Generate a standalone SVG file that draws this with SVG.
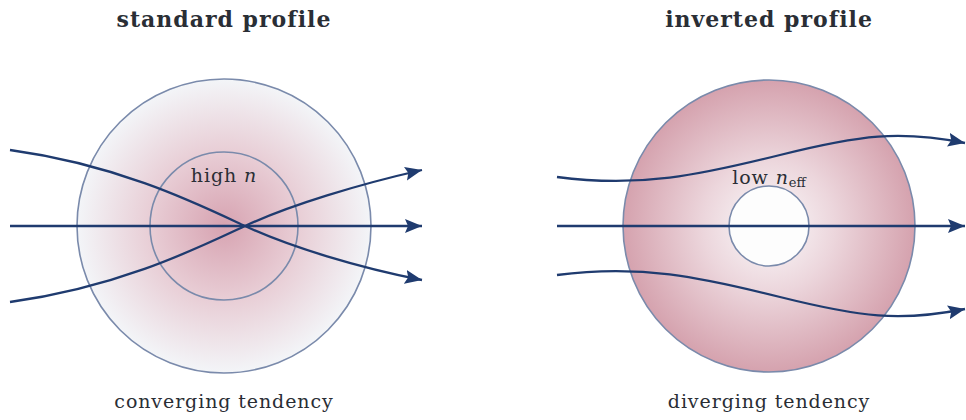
<svg xmlns="http://www.w3.org/2000/svg" width="966" height="420" viewBox="0 0 966 420">
<defs>
<style>
.title{font-family:"DejaVu Serif",serif;font-weight:bold;font-size:22px;letter-spacing:1px;fill:#2a2e35;text-anchor:middle}
.lbl{font-family:"DejaVu Serif",serif;font-size:19px;letter-spacing:0.9px;fill:#2a2e35;text-anchor:middle}
.ring{stroke:#7a8aab;stroke-width:1.6}
.ray{fill:none;stroke:#1f3b6f;stroke-width:2.3}
</style>
<radialGradient id="gStd" cx="0.5" cy="0.5" r="0.5">
<stop offset="0" stop-color="#d7a3b1"/>
<stop offset="0.5" stop-color="#e8cdd5"/>
<stop offset="1" stop-color="#f3f5f8"/>
</radialGradient>
<radialGradient id="gInv" cx="0.5" cy="0.5" r="0.5">
<stop offset="0" stop-color="#fbfbfc"/>
<stop offset="0.45" stop-color="#ecd6dc"/>
<stop offset="1" stop-color="#d5a2ae"/>
</radialGradient>
<marker id="arr" markerUnits="userSpaceOnUse" markerWidth="20" markerHeight="16" refX="17" refY="7" orient="auto">
<path d="M0,0 L17,7 L0,14 L3,7 Z" fill="#1f3b6f"/>
</marker>
</defs>
<text class="title" x="224" y="27">standard profile</text>
<text class="title" x="769" y="27">inverted profile</text>
<g id="standard-outer"><circle class="ring" cx="224" cy="226" r="147" fill="url(#gStd)"/></g>
<g id="standard-inner"><circle class="ring" cx="224" cy="226" r="74" fill="none"/>
<text class="lbl" x="224" y="182">high <tspan font-style="italic">n</tspan></text></g>
<g id="inverted-outer"><circle class="ring" cx="769" cy="226" r="146" fill="url(#gInv)"/>
<text class="lbl" x="769" y="184">low <tspan font-style="italic">n</tspan><tspan font-size="13" dy="3" letter-spacing="0">eff</tspan></text></g>
<g id="inverted-inner"><circle class="ring" cx="769" cy="226" r="40" fill="#fdfdfd"/></g>
<g id="connectors">
<path class="ray" d="M10,226 L422,226" marker-end="url(#arr)"/>
<path class="ray" d="M10,150 C120,165 200,205 245,226 S360,268 422,280" marker-end="url(#arr)"/>
<path class="ray" d="M10,302 C120,287 200,247 245,226 S360,184 422,170" marker-end="url(#arr)"/>
<path class="ray" d="M557,226 L965,226" marker-end="url(#arr)"/>
<path class="ray" d="M557,177 C640,188 700,175 780,155 S900,130 965,143" marker-end="url(#arr)"/>
<path class="ray" d="M557,275 C640,264 700,277 780,297 S900,322 965,309" marker-end="url(#arr)"/>
</g>
<text class="lbl" x="224" y="408">converging tendency</text>
<text class="lbl" x="769" y="408">diverging tendency</text>
</svg>
